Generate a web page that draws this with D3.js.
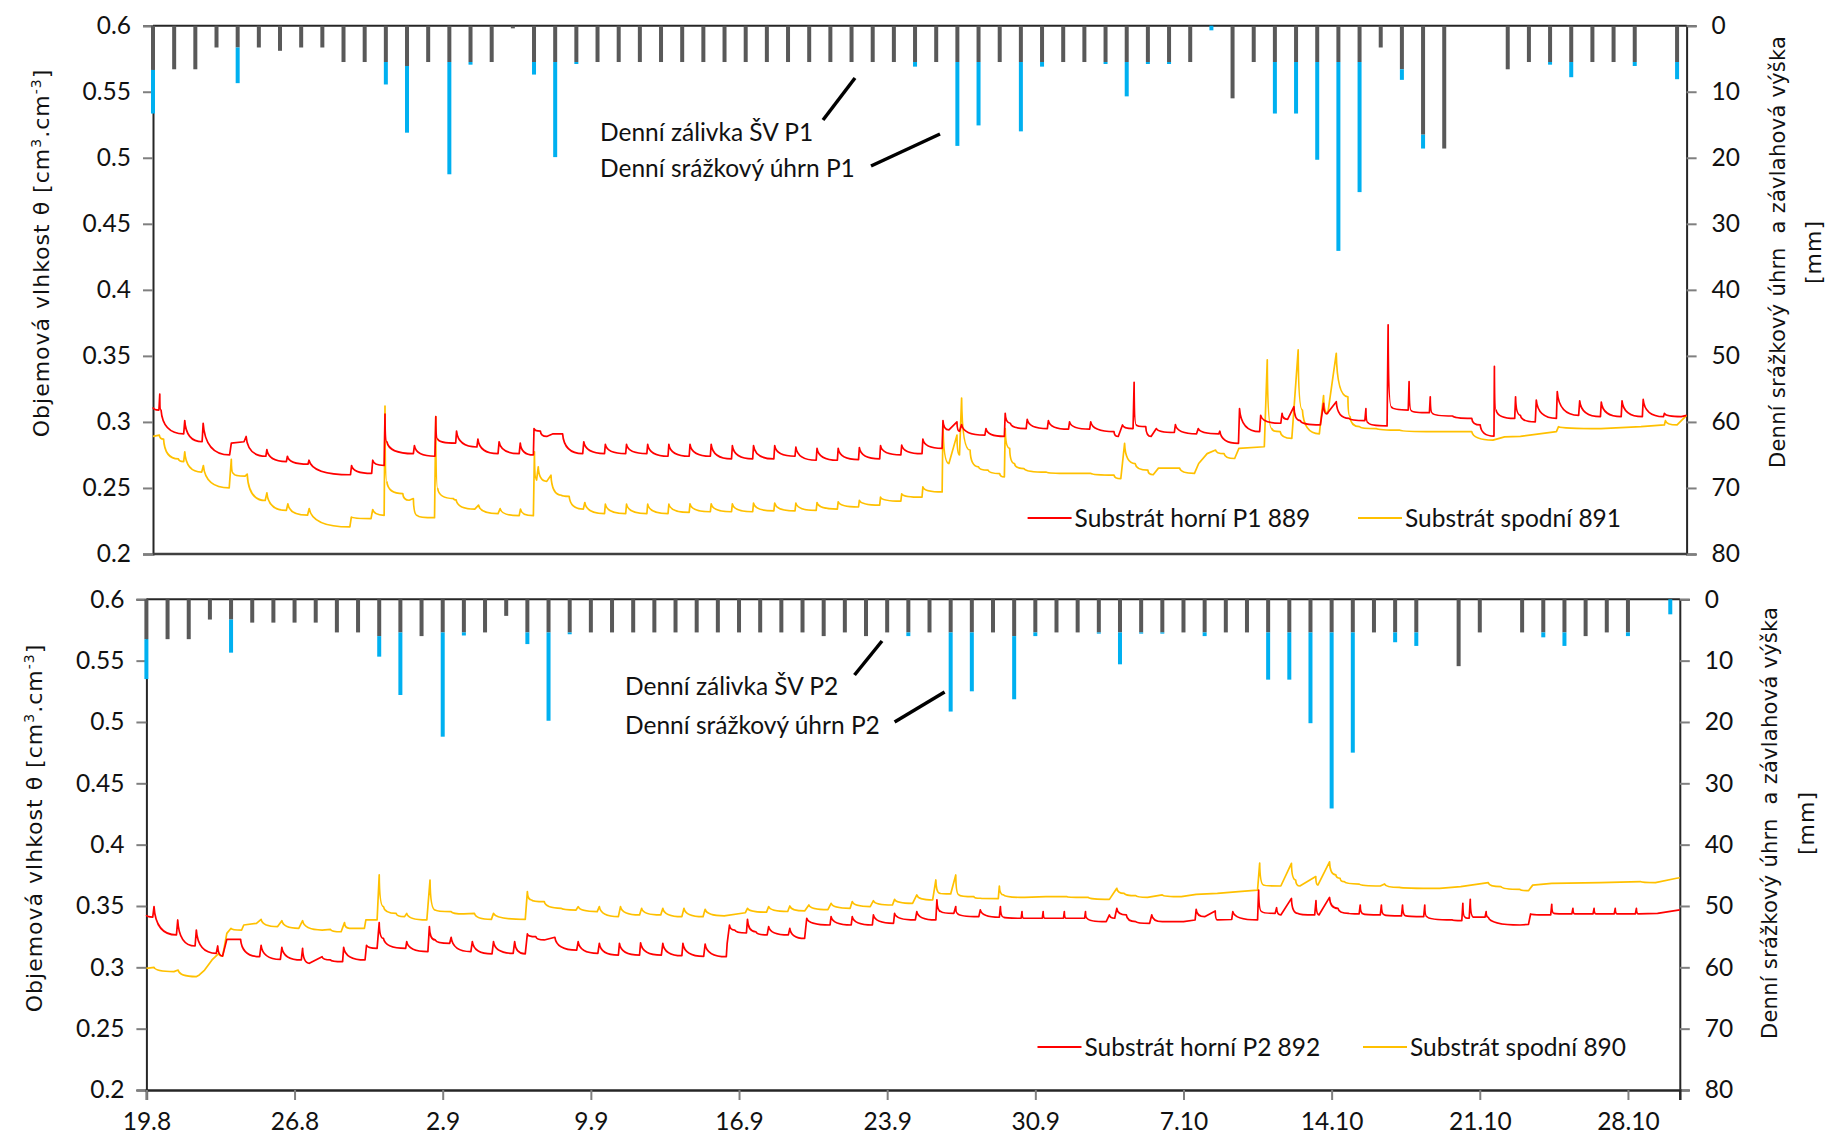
<!DOCTYPE html>
<html>
<head>
<meta charset="utf-8">
<script src="https://cdn.jsdelivr.net/npm/d3@7"></script>
<style>
  html, body { margin: 0; padding: 0; background: #fff; }
  svg { display: block; }
</style>
</head>
<body>
<svg id="chart" width="1828" height="1141"></svg>
<script>
// x axis: days from 19.8 (day 0) to ~30.10
const xTickDays = [0, 7, 14, 21, 28, 35, 42, 49, 56, 63, 70];
const xTickLabels = ["19.8", "26.8", "2.9", "9.9", "16.9", "23.9", "30.9", "7.10", "14.10", "21.10", "28.10"];
const yTicksLeft = [0.2, 0.25, 0.3, 0.35, 0.4, 0.45, 0.5, 0.55, 0.6];
const yTicksRight = [0, 10, 20, 30, 40, 50, 60, 70, 80];

// daily irrigation (Denní zálivka ŠV) and precipitation (Denní srážkový úhrn) in mm, one value per day
const irrigP1 = [6.7,6.6,6.6,3.3,3.3,3.3,3.8,3.3,3.3,5.5, 5.5,5.5,6.1,5.5,5.5,5.5,5.5,0.4,5.5,5.5,
  5.5,5.5,5.5,5.5,5.5,5.5,5.5,5.5,5.5,5.5, 5.5,5.5,5.5,5.5,5.5,5.5,5.5,5.5,5.5,5.5,
  5.5,5.5,5.5,5.5,5.5,5.5,5.5,5.5,5.5,5.5, 0,11.0,5.5,5.5,5.5,5.5,5.5,5.5,3.3,6.6,
  16.5,18.6,0,0,6.6,5.5,5.5,5.5,5.5,5.5, 5.5,0,5.5];
const rainP1 = [6.6,0,0,0,5.4,0,0,0,0,0, 0,3.4,10.1,0,17.0,0.4,0,0,1.9,14.4,
  0.3,0,0,0,0,0,0,0,0,0, 0,0,0,0,0,0,0.7,0,12.7,9.6,
  0,10.5,0.7,0,0,0.3,5.2,0.3,0.3,0, 0.7,0,0,7.8,7.8,14.8,28.6,19.7,0,1.6,
  2.1,0,0,0,0,0,0.4,2.3,0,0, 0.6,0,2.6];
const irrigP2 = [6.5,6.5,6.5,3.3,3.3,3.8,3.8,3.8,3.8,5.4, 5.4,6.0,5.4,6.0,5.4,5.4,5.4,2.7,5.4,5.4,
  5.4,5.4,5.4,5.4,5.4,5.4,5.4,5.4,5.4,5.4, 5.4,5.4,6.0,5.4,6.0,5.4,5.4,5.4,5.4,5.4,
  5.4,6.0,5.4,5.4,5.4,5.4,5.4,5.4,5.4,5.4, 5.4,5.4,5.4,5.4,5.4,5.4,5.4,5.4,5.4,5.4,
  5.4,0,10.9,5.4,0,5.4,5.4,5.4,6.0,5.4, 5.4,0,0];
const rainP2 = [6.5,0,0,0,5.4,0,0,0,0,0, 0,3.35,10.2,0,17.0,0.5,0,0,1.9,14.4,
  0.3,0,0,0,0,0,0,0,0,0, 0,0,0,0,0,0,0.6,0,12.9,9.6,
  0,10.3,0.6,0,0,0.2,5.2,0.2,0.2,0, 0.6,0,0,7.7,7.7,14.8,28.7,19.6,0,1.6,
  2.2,0,0,0,0,0,0.8,2.2,0,0, 0.6,0,2.45];

// soil moisture key points [day, θ]
const p1Upper889 = [[0,0.311],[0.28,0.309],[0.32,0.321],[0.38,0.309],[1.45,0.291],[1.5,0.301],[2.32,0.285],[2.37,0.299],
  [3.62,0.275],[3.7,0.284],[4.3,0.285],[4.4,0.289],[5.33,0.274],[5.38,0.279],[6.3,0.270],[6.35,0.274],[7.32,0.268],[7.37,0.271],
  [9.33,0.260],[9.38,0.267],[10.33,0.261],[10.38,0.271],[10.92,0.267],[10.96,0.306],[11.05,0.285],[12.3,0.276],[12.35,0.282],
  [13.32,0.274],[13.36,0.304],[13.45,0.287],[14.3,0.284],[14.34,0.293],[15.3,0.281],[15.35,0.287],[16.3,0.276],[16.35,0.285],
  [17.3,0.276],[17.35,0.284],[17.97,0.275],[18.0,0.295],[18.3,0.293],[18.6,0.289],[18.9,0.291],[19.35,0.291],[20.3,0.276],[20.35,0.285],
  [21.33,0.276],[21.37,0.283],[22.33,0.276],[22.37,0.283],[23.33,0.276],[23.37,0.283],[24.33,0.274],[24.37,0.283],[25.33,0.274],[25.37,0.283],
  [26.33,0.274],[26.37,0.283],[27.33,0.272],[27.37,0.282],[28.33,0.272],[28.37,0.282],[29.33,0.272],[29.37,0.282],[30.33,0.274],[30.37,0.281],
  [31.33,0.271],[31.37,0.280],[32.33,0.271],[32.37,0.280],[33.33,0.2715],[33.37,0.2805],[34.33,0.272],[34.37,0.282],[35.33,0.275],[35.37,0.2825],
  [36.33,0.276],[36.37,0.287],[37.28,0.280],[37.32,0.301],[37.6,0.294],[37.98,0.300],[38.1,0.293],[38.2,0.298],[39.3,0.290],[39.35,0.295],
  [40.22,0.289],[40.26,0.3065],[40.5,0.299],[41.25,0.295],[41.3,0.302],[42.25,0.295],[42.3,0.301],[43.25,0.2945],[43.3,0.300],[44.25,0.2945],[44.3,0.300],
  [45.4,0.2926],[45.6,0.289],[45.8,0.2977],[46.3,0.295],[46.35,0.330],[46.45,0.2977],[46.9,0.2964],[47.15,0.289],[47.4,0.295],[48.25,0.292],[48.3,0.298],
  [49.3,0.291],[49.38,0.295],[50.35,0.291],[50.4,0.293],[51.28,0.2837],[51.33,0.310],[52.28,0.2926],[52.33,0.305],[53.28,0.299],[53.34,0.3065],
  [53.6,0.302],[53.9,0.3115],[54.2,0.301],[55.15,0.2977],[55.3,0.314],[55.45,0.306],[55.9,0.3153],[56.5,0.3027],[57.25,0.301],[57.3,0.310],[57.4,0.2994],
  [58.3,0.297],[58.35,0.3735],[58.5,0.3115],[59.3,0.309],[59.34,0.3305],[59.45,0.3085],[60.3,0.307],[60.34,0.319],[60.45,0.3065],[61.4,0.3045],
  [62.3,0.3027],[62.7,0.2977],[63.35,0.2893],[63.37,0.342],[63.45,0.309],[64.33,0.3027],[64.37,0.319],[64.6,0.305],[65.3,0.300],[65.35,0.3166],
  [66.3,0.3027],[66.34,0.323],[67.35,0.305],[67.4,0.316],[68.38,0.304],[68.42,0.315],[69.36,0.304],[69.4,0.316],[70.36,0.304],[70.4,0.317],
  [71.36,0.304],[71.4,0.3065],[72.2,0.304],[72.45,0.305]];

const p1Lower891 = [[0,0.289],[0.3,0.290],[0.5,0.287],[1.2,0.272],[1.45,0.270],[1.5,0.2774],[2.3,0.262],[2.38,0.267],[3.6,0.250],[3.7,0.2716],
  [3.8,0.261],[4.35,0.259],[4.45,0.2605],[5.3,0.2405],[5.38,0.2463],[6.3,0.233],[6.37,0.238],[7.3,0.2294],[7.38,0.2344],[9.3,0.2205],[9.37,0.228],
  [10.3,0.2268],[10.38,0.2337],[10.92,0.2293],[10.96,0.312],[11.05,0.2546],[11.8,0.2457],[12.1,0.2407],[12.3,0.242],[12.5,0.229],[13.3,0.2275],
  [13.36,0.304],[13.45,0.2496],[14.2,0.242],[14.32,0.241],[15.2,0.234],[15.38,0.237],[16.3,0.2306],[16.4,0.2344],[17.3,0.229],[17.36,0.234],
  [17.97,0.229],[18.02,0.2774],[18.12,0.256],[18.2,0.266],[18.6,0.255],[18.8,0.2597],[19.3,0.2445],[19.66,0.2437],[20.33,0.234],[20.4,0.239],
  [21.33,0.2306],[21.37,0.2377],[22.33,0.2306],[22.37,0.2377],[23.33,0.2306],[23.37,0.2377],[24.33,0.2306],[24.37,0.2377],[25.33,0.2315],[25.37,0.238],
  [26.33,0.232],[26.37,0.238],[27.33,0.232],[27.37,0.238],[28.33,0.232],[28.37,0.2385],[29.33,0.2326],[29.37,0.2385],[30.33,0.2326],[30.37,0.2385],
  [31.33,0.233],[31.37,0.239],[32.33,0.234],[32.37,0.2395],[33.33,0.2356],[33.37,0.2407],[34.33,0.237],[34.37,0.243],[35.33,0.240],[35.37,0.2456],
  [36.33,0.243],[36.37,0.2508],[37.28,0.247],[37.32,0.299],[37.6,0.2685],[37.98,0.290],[38.1,0.275],[38.2,0.318],[38.6,0.2787],[39.0,0.266],
  [39.45,0.2635],[40.0,0.2609],[40.22,0.2584],[40.26,0.295],[40.47,0.280],[40.7,0.2685],[41.15,0.2647],[42.2,0.262],[43.25,0.261],[44.3,0.261],
  [45.4,0.2597],[45.72,0.257],[45.9,0.2837],[46.4,0.2685],[47.0,0.2635],[47.25,0.260],[47.5,0.265],[48.5,0.265],[49.2,0.261],[49.4,0.2685],
  [49.8,0.276],[50.2,0.2787],[50.6,0.276],[51.1,0.2723],[51.3,0.280],[52.5,0.2812],[52.64,0.347],[52.85,0.295],[53.25,0.2926],[53.8,0.2875],
  [54.1,0.3545],[54.3,0.309],[55.1,0.291],[55.3,0.320],[55.5,0.3065],[55.9,0.352],[56.45,0.319],[56.55,0.304],[57.0,0.2964],[57.8,0.295],
  [58.9,0.2938],[60.5,0.2926],[62.3,0.2926],[63.3,0.2862],[63.85,0.2887],[64.6,0.289],[66.3,0.2926],[66.4,0.2964],[68.4,0.295],[70.3,0.2964],
  [71.4,0.2977],[71.45,0.301],[72.0,0.2977],[72.45,0.305]];

const p2Upper892 = [[0,0.3427],[0.3,0.341],[0.36,0.3495],[1.42,0.3264],[1.48,0.3386],[2.3,0.3174],[2.36,0.3304],[3.3,0.3114],[3.37,0.3174],
  [3.6,0.3092],[3.8,0.3228],[4.45,0.3228],[5.35,0.3087],[5.42,0.318],[6.33,0.3065],[6.4,0.3163],[7.32,0.306],[7.38,0.3155],[7.7,0.3033],
  [8.3,0.3087],[8.7,0.306],[9.27,0.3046],[9.32,0.3163],[10.33,0.306],[10.4,0.318],[10.9,0.3155],[11.0,0.3364],[11.2,0.3236],[12.25,0.3155],
  [12.3,0.3209],[13.3,0.3128],[13.37,0.3332],[13.65,0.3223],[14.33,0.3196],[14.4,0.3245],[15.33,0.3128],[15.4,0.3209],[16.33,0.3109],[16.4,0.3209],
  [17.33,0.3114],[17.4,0.3209],[17.9,0.311],[18.0,0.3272],[18.4,0.325],[18.8,0.3223],[19.3,0.3245],[20.33,0.3141],[20.4,0.3209],[21.33,0.3114],
  [21.4,0.3196],[22.3,0.31],[22.35,0.3196],[23.3,0.31],[23.35,0.32],[24.33,0.31],[24.4,0.3196],[25.3,0.3095],[25.35,0.3196],[26.33,0.309],
  [26.4,0.319],[27.4,0.3087],[27.44,0.3196],[27.55,0.3345],[27.8,0.3304],[28.35,0.328],[28.4,0.3391],[28.8,0.329],[29.33,0.3264],[29.4,0.3332],
  [30.33,0.3264],[30.4,0.3318],[31.1,0.3236],[31.2,0.34],[32.3,0.3345],[32.35,0.3413],[33.3,0.3345],[33.35,0.3413],[34.3,0.3345],[34.35,0.3427],
  [35.3,0.3359],[35.35,0.344],[36.33,0.3386],[36.4,0.3454],[37.3,0.3386],[37.35,0.355],[37.55,0.3454],[38.15,0.344],[38.24,0.3495],[38.32,0.344],
  [39.33,0.3413],[39.4,0.3468],[40.3,0.3408],[40.35,0.3495],[40.5,0.3408],[41.33,0.34],[41.37,0.3454],[41.45,0.34],[42.33,0.34],[42.37,0.3454],[42.45,0.34],
  [43.33,0.34],[43.37,0.3454],[43.45,0.34],[44.33,0.34],[44.37,0.3454],[44.45,0.34],[45.35,0.3372],[45.5,0.3427],[45.75,0.34],[45.85,0.348],[46.3,0.3427],
  [46.75,0.3372],[47.4,0.3359],[47.5,0.3427],[48.0,0.3372],[49.0,0.3372],[49.55,0.3386],[49.6,0.3473],[50.0,0.3413],[50.5,0.346],[50.6,0.3386],
  [51.28,0.339],[51.33,0.3454],[52.5,0.3386],[52.55,0.363],[52.7,0.3454],[53.33,0.344],[53.4,0.3486],[53.6,0.3427],[54.1,0.3562],[54.4,0.344],
  [55.2,0.3427],[55.26,0.3543],[55.4,0.3427],[55.9,0.357],[56.3,0.348],[56.8,0.344],[57.3,0.3435],[57.35,0.3508],[57.5,0.3435],[58.3,0.3427],
  [58.35,0.3508],[58.5,0.3427],[59.3,0.342],[59.35,0.3508],[59.5,0.342],[60.35,0.3413],[60.4,0.3508],[60.5,0.3413],[61.7,0.3386],[62.15,0.338],
  [62.2,0.3522],[62.3,0.341],[62.5,0.340],[62.55,0.3554],[62.7,0.341],[63.25,0.341],[63.3,0.3454],[63.4,0.3408],[64.9,0.3345],[65.3,0.335],
  [65.4,0.3435],[66.35,0.3427],[66.4,0.3514],[66.5,0.344],[67.35,0.3435],[67.4,0.348],[67.5,0.3435],[68.35,0.3435],[68.4,0.348],[68.5,0.3435],
  [69.35,0.3435],[69.4,0.348],[69.5,0.3435],[70.35,0.3435],[70.4,0.348],[70.5,0.3435],[71.4,0.344],[72.45,0.3468]];

const p2Lower890 = [[0,0.2992],[0.36,0.300],[1.3,0.2965],[1.5,0.2978],[2.35,0.2924],[2.5,0.2938],[2.75,0.2978],[3.1,0.306],[3.42,0.3114],
  [3.6,0.3092],[3.8,0.3277],[4.0,0.3318],[4.5,0.3304],[4.6,0.3345],[5.2,0.3359],[5.42,0.3391],[6.2,0.3332],[6.4,0.338],[7.2,0.3318],[7.38,0.338],
  [8.3,0.3304],[8.7,0.3309],[9.2,0.329],[9.36,0.3364],[9.6,0.3318],[10.3,0.3318],[10.37,0.3386],[10.9,0.3386],[11.0,0.3753],[11.2,0.3495],
  [11.8,0.344],[12.2,0.3413],[12.3,0.344],[13.25,0.3386],[13.4,0.3712],[13.65,0.3467],[14.4,0.3454],[15.0,0.3435],[15.5,0.344],[16.3,0.3391],
  [16.4,0.344],[17.9,0.3391],[18.0,0.3617],[18.2,0.3549],[18.8,0.3535],[19.6,0.3481],[20.3,0.3467],[20.4,0.3495],[21.3,0.3454],[21.4,0.3495],
  [22.3,0.3413],[22.4,0.3495],[23.3,0.3427],[23.4,0.3481],[24.3,0.3427],[24.4,0.3481],[25.3,0.3413],[25.4,0.3481],[26.3,0.3413],[26.4,0.3473],
  [27.3,0.342],[28.3,0.3445],[28.4,0.3481],[29.3,0.345],[29.4,0.3495],[30.3,0.3455],[30.4,0.35],[31.1,0.346],[31.3,0.3508],[32.2,0.347],
  [32.35,0.3522],[33.25,0.3481],[33.35,0.3536],[34.2,0.3495],[34.35,0.3543],[35.25,0.3508],[35.35,0.3554],[36.2,0.3522],[36.4,0.359],
  [37.15,0.3549],[37.3,0.3712],[37.5,0.3603],[38.0,0.3598],[38.24,0.3753],[38.4,0.359],[39.1,0.3576],[39.4,0.3563],[40.25,0.356],[40.3,0.3663],
  [40.5,0.359],[41.5,0.357],[42.5,0.3576],[43.5,0.3576],[44.5,0.357],[45.5,0.3554],[45.85,0.3644],[46.2,0.3603],[46.75,0.3584],[47.3,0.357],
  [48.0,0.359],[48.9,0.3576],[49.6,0.3595],[50.6,0.3603],[51.6,0.3617],[52.5,0.363],[52.6,0.385],[52.8,0.367],[53.6,0.3663],[54.1,0.3848],
  [54.3,0.3712],[54.5,0.3663],[55.25,0.374],[55.35,0.367],[55.9,0.386],[56.2,0.3753],[56.4,0.3726],[56.6,0.3698],[57.3,0.3679],[58.3,0.3663],
  [58.5,0.368],[59.2,0.3652],[61.1,0.3644],[62.1,0.3658],[63.4,0.369],[64.0,0.3658],[64.9,0.3636],[65.3,0.3625],[65.5,0.367],[66.4,0.3685],
  [68.7,0.369],[70.6,0.3698],[71.3,0.369],[72.3,0.3726],[72.45,0.373]];

const panels = [
  { left: 153, right: 1686.6, top: 25.7, bottom: 554, irrig: irrigP1, rain: rainP1, upper: p1Upper889, lower: p1Lower891,
    legend: ["Substrát horní P1 889", "Substrát spodní 891"], legendY: 518, legendX: [1027.6, 1358],
    notes: ["Denní zálivka ŠV P1", "Denní srážkový úhrn P1"], noteX: 600, noteY: [132, 168],
    leaders: [[823, 120, 855, 78], [871, 166, 940, 134]],
    leftTitle: [41, 253], rightTitle: [1778, 1813, 252], xLabels: false },
  { left: 146.4, right: 1679.8, top: 599.3, bottom: 1090, irrig: irrigP2, rain: rainP2, upper: p2Upper892, lower: p2Lower890,
    legend: ["Substrát horní P2 892", "Substrát spodní 890"], legendY: 1047, legendX: [1037.5, 1363],
    notes: ["Denní zálivka ŠV P2", "Denní srážkový úhrn P2"], noteX: 625, noteY: [686, 725],
    leaders: [[854.5, 675, 882, 641], [894.6, 722, 944.6, 692]],
    leftTitle: [34, 828], rightTitle: [1770, 1806, 823], xLabels: true }
];

const RED = "#ff0000", YELLOW = "#ffc000", GRAY = "#595959", BLUE = "#00b0f0";
const tickFont = "Lato, 'Open Sans', sans-serif";
const titleFont = "'DejaVu Sans', Verdana, sans-serif";
const textSize = "24.5px";

const svg = d3.select("#chart");

// sawtooth path: rising parts straight, falling parts drop fast then level off
function moisturePath(points, x, y) {
  let p = d3.path();
  points.forEach((d, i) => {
    let px = x(d[0]), py = y(d[1]);
    if (i === 0) { p.moveTo(px, py); return; }
    let qx = x(points[i - 1][0]), qy = y(points[i - 1][1]);
    if (py > qy + 0.3) {
      p.quadraticCurveTo(qx + (px - qx) * 0.08, py, px, py);
    } else {
      p.lineTo(px, py);
    }
  });
  return p.toString();
}

panels.forEach((cfg) => {
  let g = svg.append("g");
  let x = d3.scaleLinear().domain([0, 72.45]).range([cfg.left, cfg.right]);
  let y = d3.scaleLinear().domain([0.2, 0.6]).range([cfg.bottom, cfg.top]);
  let y2 = d3.scaleLinear().domain([0, 80]).range([cfg.top, cfg.bottom]);

  // left axis
  let leftAxis = d3.axisLeft(y).tickValues(yTicksLeft).tickSize(10).tickPadding(12).tickFormat(d => String(d));
  let la = g.append("g").attr("transform", "translate(" + cfg.left + ",0)").call(leftAxis);
  // right axis (reversed, mm)
  let rightAxis = d3.axisRight(y2).tickValues(yTicksRight).tickSize(10).tickPadding(15);
  let ra = g.append("g").attr("transform", "translate(" + cfg.right + ",0)").call(rightAxis);
  [la, ra].forEach(a => {
    a.select(".domain").attr("stroke", "#262626").attr("stroke-width", 2);
    a.selectAll(".tick line").attr("stroke", "#7f7f7f").attr("stroke-width", 2);
    a.selectAll(".tick text").attr("fill", "#111").style("font-family", tickFont).style("font-size", textSize);
  });

  // horizontal lines at top (mm axis) and bottom (θ axis)
  g.append("line").attr("x1", cfg.left).attr("x2", cfg.right).attr("y1", cfg.top).attr("y2", cfg.top)
    .attr("stroke", "#262626").attr("stroke-width", 2);
  if (cfg.xLabels) {
    let xAxis = d3.axisBottom(x).tickValues(xTickDays).tickSize(10).tickPadding(13)
      .tickFormat((d, i) => xTickLabels[i]);
    let xa = g.append("g").attr("transform", "translate(0," + cfg.bottom + ")").call(xAxis);
    xa.select(".domain").attr("stroke", "#262626").attr("stroke-width", 2.5);
    xa.selectAll(".tick line").attr("stroke", "#7f7f7f").attr("stroke-width", 2);
    xa.selectAll(".tick text").attr("fill", "#111").style("font-family", tickFont).style("font-size", textSize);
  } else {
    g.append("line").attr("x1", cfg.left).attr("x2", cfg.right).attr("y1", cfg.bottom).attr("y2", cfg.bottom)
      .attr("stroke", "#404040").attr("stroke-width", 2.5);
  }

  // moisture lines
  g.append("path").attr("d", moisturePath(cfg.lower, x, y))
    .attr("fill", "none").attr("stroke", YELLOW).attr("stroke-width", 1.7).attr("stroke-linejoin", "round");
  g.append("path").attr("d", moisturePath(cfg.upper, x, y))
    .attr("fill", "none").attr("stroke", RED).attr("stroke-width", 1.7).attr("stroke-linejoin", "round");

  // hanging stacked bars: irrigation first, precipitation below it
  let barW = 4;
  let days = d3.range(cfg.irrig.length);
  g.append("g").selectAll("rect").data(days).join("rect")
    .attr("x", d => x(d) - barW / 2).attr("width", barW)
    .attr("y", y2(0)).attr("height", d => y2(cfg.irrig[d]) - y2(0))
    .attr("fill", GRAY);
  g.append("g").selectAll("rect").data(days.filter(d => cfg.rain[d] > 0)).join("rect")
    .attr("x", d => x(d) - barW / 2).attr("width", barW)
    .attr("y", d => y2(cfg.irrig[d])).attr("height", d => y2(cfg.irrig[d] + cfg.rain[d]) - y2(cfg.irrig[d]))
    .attr("fill", BLUE);

  // annotations with leader lines
  cfg.notes.forEach((t, i) => {
    g.append("text").attr("x", cfg.noteX).attr("y", cfg.noteY[i]).attr("dy", "0.35em")
      .style("font-family", tickFont).style("font-size", textSize).attr("fill", "#111").text(t);
    let l = cfg.leaders[i];
    g.append("line").attr("x1", l[0]).attr("y1", l[1]).attr("x2", l[2]).attr("y2", l[3])
      .attr("stroke", "#000").attr("stroke-width", 3.5);
  });

  // legend
  [RED, YELLOW].forEach((c, i) => {
    let lx = cfg.legendX[i];
    g.append("line").attr("x1", lx).attr("x2", lx + 44).attr("y1", cfg.legendY).attr("y2", cfg.legendY)
      .attr("stroke", c).attr("stroke-width", 2);
    g.append("text").attr("x", lx + 47).attr("y", cfg.legendY).attr("dy", "0.35em")
      .style("font-family", tickFont).style("font-size", textSize).attr("fill", "#111").text(cfg.legend[i]);
  });

  // axis titles
  let lt = g.append("text").attr("transform", "translate(" + cfg.leftTitle[0] + "," + cfg.leftTitle[1] + ") rotate(-90)")
    .attr("text-anchor", "middle").attr("dy", "0.35em")
    .style("font-family", titleFont).style("font-size", "22px").style("letter-spacing", "1px").attr("fill", "#111");
  lt.append("tspan").text("Objemová vlhkost θ [cm");
  lt.append("tspan").attr("baseline-shift", "super").style("font-size", "14px").text("3");
  lt.append("tspan").text(".cm");
  lt.append("tspan").attr("baseline-shift", "super").style("font-size", "14px").text("-3");
  lt.append("tspan").text("]");

  let rt = cfg.rightTitle;
  g.append("text").attr("transform", "translate(" + rt[0] + "," + rt[2] + ") rotate(-90)")
    .attr("text-anchor", "middle").attr("dy", "0.35em")
    .attr("textLength", 432).attr("lengthAdjust", "spacing")
    .style("font-family", titleFont).style("font-size", "21px")
    .style("white-space", "pre").attr("fill", "#111")
    .text("Denní srážkový úhrn  a závlahová výška");
  g.append("text").attr("transform", "translate(" + rt[1] + "," + rt[2] + ") rotate(-90)")
    .attr("text-anchor", "middle").attr("dy", "0.35em")
    .style("font-family", titleFont).style("font-size", "22px").style("letter-spacing", "1px").attr("fill", "#111").text("[mm]");
});
</script>
</body>
</html>
